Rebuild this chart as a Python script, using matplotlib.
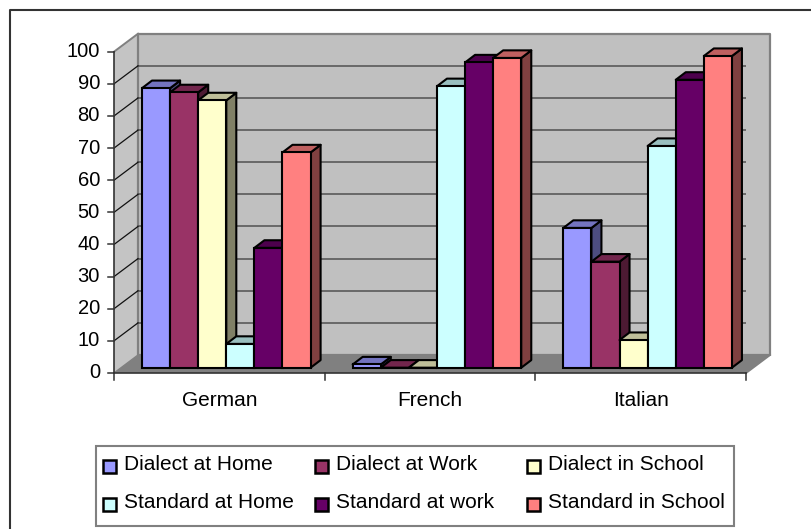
import matplotlib
matplotlib.use("Agg")
import matplotlib.pyplot as plt
from matplotlib.lines import Line2D
from matplotlib.patches import Polygon, Rectangle

categories = ["German", "French", "Italian"]
series_names = ["Dialect at Home", "Dialect at Work", "Dialect in School",
                "Standard at Home", "Standard at work", "Standard in School"]
dialect_home = [87, 1, 43.5]
dialect_work = [85.7, 0, 33]
dialect_school = [83.2, 0, 8.6]
standard_home = [7.4, 87.6, 69]
standard_work = [37.3, 95, 89.6]
standard_school = [67, 96.4, 97]
series = [dialect_home, dialect_work, dialect_school, standard_home, standard_work, standard_school]
colors = ["#9999FF", "#993366", "#FFFFCC", "#CCFFFF", "#660066", "#FF8080"]
tops = ["#7373BF", "#73264D", "#BFBF99", "#99BFBF", "#4D004D", "#BF6060"]
sides = ["#4D4D80", "#4D1A33", "#808066", "#668080", "#330033", "#804040"]
yticks = list(range(0, 101, 10))

plt.rcParams["font.family"] = ["Liberation Sans", "DejaVu Sans"]
W, H = 812, 529
fig = plt.figure(figsize=(W / 100, H / 100), dpi=100)
ax = fig.add_axes([114 / W, 1 - 373 / H, 632 / W, 321.3 / H])
ax.set_xlim(0, 3)
ax.set_ylim(0, 100)
ax.axis("off")

# depth offsets in data units
ux, uy = 3 / 632, 100 / 321.3
wall_dx, wall_dy = 24 * ux, 18 * uy
bar_dx, bar_dy = 10 * ux, 7.6 * uy
base_dx, base_dy = 7 * ux, 5.3 * uy
bar_w = 28.1 * ux
group_gap = 21 * ux


def poly(pts, fc, ec="none", lw=0, z=1):
    ax.add_patch(Polygon(pts, closed=True, fc=fc, ec=ec, lw=lw, zorder=z, clip_on=False, joinstyle="round"))


# walls and floor
poly([(0, 0), (wall_dx, wall_dy), (wall_dx, 100 + wall_dy), (0, 100)], "#C4C4C4")
poly([(wall_dx, wall_dy), (3 + wall_dx, wall_dy), (3 + wall_dx, 100 + wall_dy), (wall_dx, 100 + wall_dy)],
     "#C0C0C0", "#808080", 1.6)
poly([(0, 0), (3, 0), (3 + wall_dx, wall_dy), (wall_dx, wall_dy)], "#808080")
ax.plot([0, wall_dx], [100, 100 + wall_dy], color="#808080", lw=1.4, zorder=2, clip_on=False)
ax.plot([3, 3 + wall_dx], [0, wall_dy], color="#808080", lw=1.4, zorder=2, clip_on=False)

for t in yticks[1:-1]:
    ax.plot([wall_dx, 3 + wall_dx], [t + wall_dy] * 2, color="#595959", lw=1.2, zorder=2)
    ax.plot([0, wall_dx], [t, t + wall_dy], color="#111111", lw=0.9, zorder=2, clip_on=False)
ax.plot([0, wall_dx], [0, wall_dy], color="#808080", lw=1, zorder=2)

# bars, painted left to right so the neighbour covers the side face
z = 3
for c in range(len(categories)):
    for s, vals in enumerate(series):
        x0 = c + group_gap + s * bar_w + base_dx
        x1 = x0 + bar_w
        y0 = base_dy
        y1 = vals[c] + base_dy
        poly([(x1, y0), (x1 + bar_dx, y0 + bar_dy), (x1 + bar_dx, y1 + bar_dy), (x1, y1)],
             sides[s], "black", 1.5, z)
        poly([(x0, y1), (x1, y1), (x1 + bar_dx, y1 + bar_dy), (x0 + bar_dx, y1 + bar_dy)],
             tops[s], "black", 1.5, z)
        ax.add_patch(Rectangle((x0, y0), bar_w, vals[c], fc=colors[s], ec="black", lw=1.5, zorder=z, clip_on=False))
        z += 1

# axis lines, ticks and labels
ax.plot([0, 0], [0, 100], color="#333333", lw=1.2, zorder=50, clip_on=False)
ax.plot([0, 3], [0, 0], color="#333333", lw=1.2, zorder=50, clip_on=False)
for t in yticks:
    ax.plot([-6 * ux, 0], [t, t], color="#333333", lw=1.1, clip_on=False, zorder=50)
    ax.text(-14 * ux, t, str(t), ha="right", va="center", fontsize=14.5, color="black")
for i in range(4):
    ax.plot([i, i], [0, -7 * uy], color="#333333", lw=1.1, clip_on=False, zorder=50)
for i, cat in enumerate(categories):
    ax.text(i + 0.5, -27 * uy, cat, ha="center", va="center", fontsize=15, color="black")

# chart frame: top and left edges only, the rest runs off the picture
fig.add_artist(Line2D([10 / W, 10 / W, 1], [0, 1 - 10 / H, 1 - 10 / H], transform=fig.transFigure,
                      color="#333333", lw=1.5))

# legend
fig.add_artist(Rectangle((95.7 / W, 1 - 525.7 / H), 638 / W, 80 / H, transform=fig.transFigure,
                         fc="white", ec="#808080", lw=1.5))
leg_x = [103.5, 315.5, 527]
leg_y = [466, 504]
for i, name in enumerate(series_names):
    lx, ly = leg_x[i % 3], leg_y[i // 3]
    fig.add_artist(Rectangle((lx / W, 1 - (ly + 6.5) / H), 13 / W, 13 / H, transform=fig.transFigure,
                             fc=colors[i], ec="black", lw=1.8))
    fig.text((lx + 21) / W, 1 - (ly - 1) / H, name, ha="left", va="center", fontsize=15, color="black")

fig.savefig("out.png", dpi=100)
